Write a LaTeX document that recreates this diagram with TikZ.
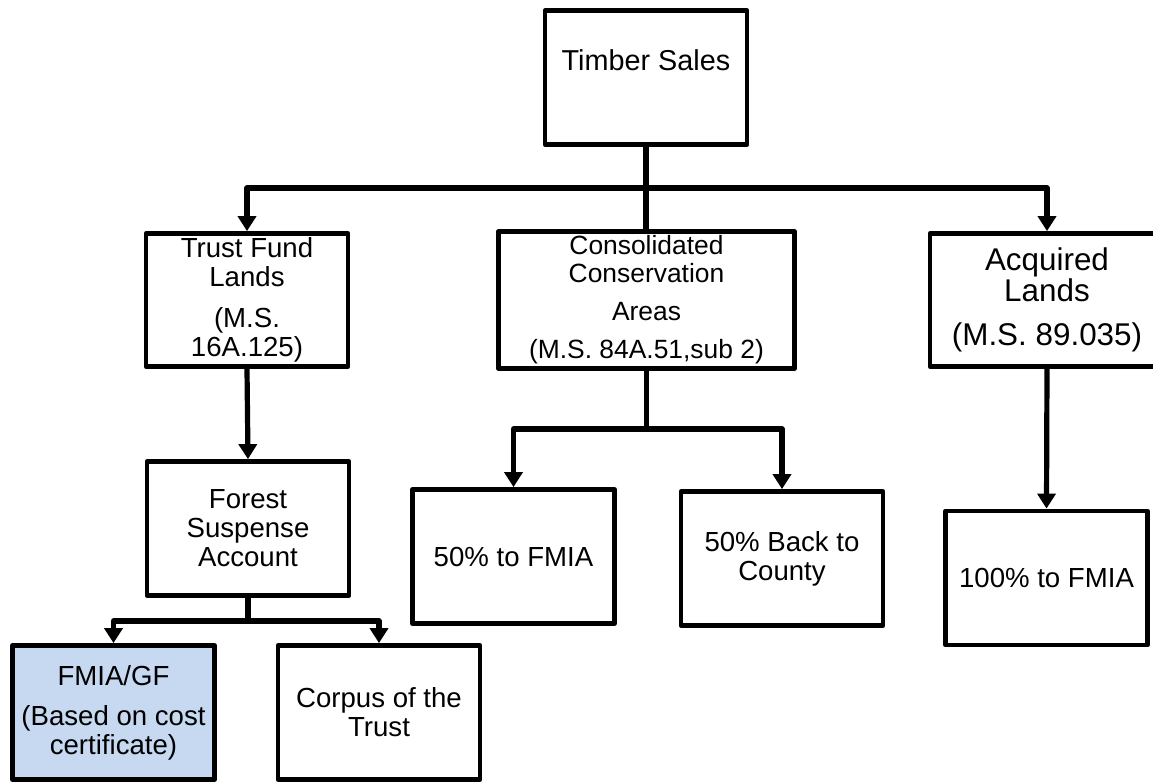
\documentclass[tikz,border=0pt]{standalone}
\usepackage{fontspec}
\setmainfont{Liberation Sans}
\usetikzlibrary{arrows.meta}
\definecolor{fmiablue}{HTML}{C6D9F1}

\begin{document}
\begin{tikzpicture}[x=0.5pt, y=-0.5pt,
        box/.style={draw, line width=2.4pt, line join=round, fill=white, align=center,
            inner sep=2pt, minimum width=101pt, minimum height=67pt,
            font=\fontsize{13.8}{14.5}\selectfont},
        link/.style={line width=2.6pt, line join=round},
        arr/.style={link, -{Triangle[width=9pt, length=7.5pt]}}]
    \clip (0,0) rectangle (1153,783);
    \fill[white] (0,0) rectangle (1153,783);
    % boxes
    \node[box, text height=10pt, text depth=17pt, font=\fontsize{14.4}{15}\selectfont]
        (timber) at (646,77.5) {Timber Sales};
    \node[box, minimum height=66.5pt] (trust) at (247,300)
        {Trust Fund\\Lands\\[6pt](M.S.\\16A.125)};
    \node[box, minimum width=148pt, minimum height=66.5pt, font=\fontsize{13.2}{14}\selectfont]
        (consol) at (646.5,300)
        {Consolidated\\Conservation\\[5pt]Areas\\[5pt](M.S. 84A.51,sub 2)};
    \node[box, minimum width=117pt, minimum height=66.5pt, font=\fontsize{15.7}{14.2}\selectfont]
        (acq) at (1047,300) {Acquired\\Lands\\[8pt](M.S. 89.035)};
    \node[box] (forest) at (248,528.5) {Forest\\Suspense\\Account};
    \node[box, fill=fmiablue] (fmia) at (113.5,712.5)
        {FMIA/GF\\[5.5pt](Based on cost\\certificate)};
    \node[box] (corpus) at (379,712.5) {Corpus of the\\Trust};
    \node[box] (fifty) at (513.5,556.5) {50\% to FMIA};
    \node[box] (county) at (782,558.5) {50\% Back to\\County};
    \node[box] (hundred) at (1046.5,578) {100\% to FMIA};
    % connectors
    \coordinate (bus1) at (646,188);
    \coordinate (bus2) at (248,621);
    \coordinate (bus3) at (646.5,429);
    \draw[link] (timber.south) -- (bus1);
    \draw[arr] (bus1) -| (trust.north);
    \draw[arr] (bus1) -| (acq.north);
    \draw[link] (bus1) -- (bus1 |- consol.north);
    \draw[arr] (trust.south) -- (forest.north);
    \draw[link] (forest.south) -- (bus2);
    \draw[arr] (bus2) -| (fmia.north);
    \draw[arr] (bus2) -| (corpus.north);
    \draw[link] (consol.south) -- (bus3);
    \draw[arr] (bus3) -| (fifty.north);
    \draw[arr] (bus3) -| (county.north);
    \draw[arr] (acq.south) -- (hundred.north);
\end{tikzpicture}
\end{document}
